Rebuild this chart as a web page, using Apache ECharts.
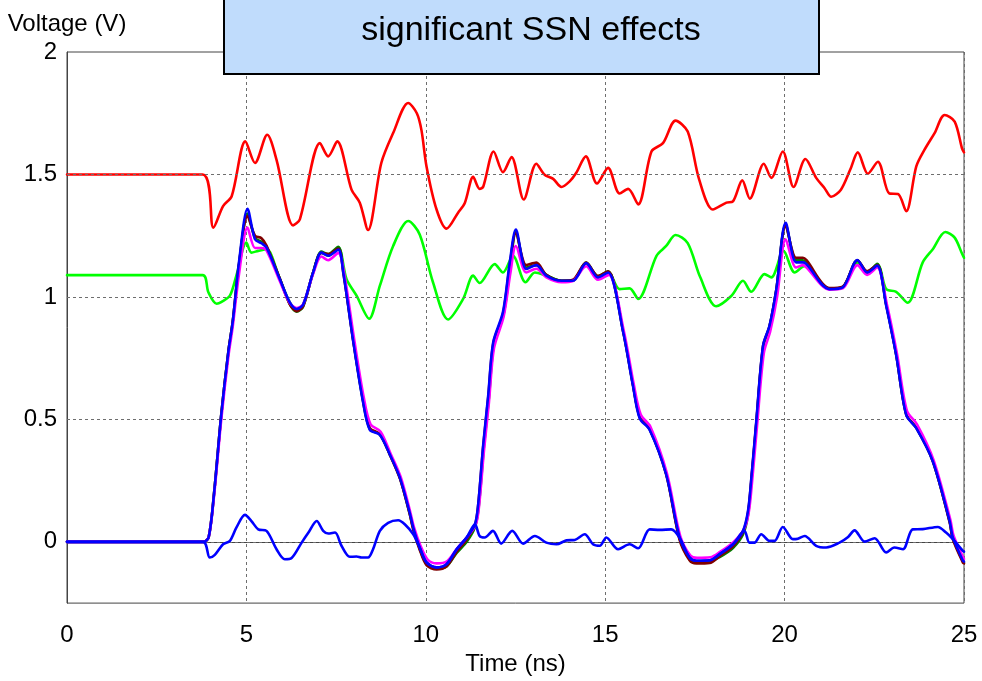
<!DOCTYPE html>
<html>
<head>
<meta charset="utf-8">
<script src="https://cdn.jsdelivr.net/npm/echarts@6/dist/echarts.min.js"></script>
<style>
html,body{margin:0;padding:0;background:#fff;}
#chart{width:982px;height:681px;}
</style>
</head>
<body>
<div id="chart"></div>
<script>
// ---- data (time in ns, voltage in V) ----
var titleText = 'significant SSN effects';
var xName = 'Time (ns)';
var yName = 'Voltage (V)';
var xTicks = [0, 5, 10, 15, 20, 25];
var yTicks = [0, 0.5, 1, 1.5, 2];

var redLine = [[0,1.5],[3.78,1.5],[4.08,1.283],[4.35,1.371],[4.59,1.411],[4.97,1.635],[5.24,1.547],[5.58,1.662],[5.84,1.56],[6.30,1.292],[6.49,1.317],[7.05,1.628],[7.28,1.574],[7.53,1.635],[7.93,1.438],[8.16,1.385],[8.39,1.273],[8.76,1.547],[9.09,1.669],[9.51,1.792],[9.75,1.75],[9.88,1.68],[10.02,1.533],[10.30,1.357],[10.58,1.279],[10.90,1.344],[11.09,1.385],[11.32,1.49],[11.50,1.441],[11.60,1.45],[11.89,1.594],[12.15,1.509],[12.39,1.571],[12.73,1.398],[13.08,1.544],[13.31,1.499],[13.55,1.482],[13.78,1.449],[14.01,1.472],[14.19,1.506],[14.46,1.574],[14.77,1.463],[15.08,1.527],[15.40,1.422],[15.64,1.441],[15.92,1.378],[16.29,1.594],[16.61,1.628],[16.96,1.72],[17.30,1.675],[17.62,1.479],[18.00,1.357],[18.38,1.385],[18.56,1.39],[18.82,1.476],[19.03,1.401],[19.42,1.544],[19.63,1.486],[19.95,1.594],[20.25,1.449],[20.58,1.563],[20.88,1.486],[21.11,1.445],[21.30,1.409],[21.57,1.438],[21.83,1.52],[22.04,1.59],[22.32,1.503],[22.60,1.552],[22.92,1.422],[23.16,1.42],[23.39,1.35],[23.67,1.533],[23.90,1.601],[24.18,1.669],[24.46,1.743],[24.74,1.716],[24.95,1.604],[25,1.59]];

var greenLine = [[0,1.089],[3.78,1.089],[3.94,1.019],[4.17,0.972],[4.31,0.98],[4.54,1.005],[4.72,1.087],[5.0,1.222],[5.14,1.181],[5.33,1.188],[5.56,1.195],[5.93,1.073],[6.21,0.978],[6.40,0.951],[6.58,0.968],[6.86,1.10],[7.09,1.181],[7.28,1.168],[7.56,1.202],[7.79,1.073],[8.07,1.005],[8.42,0.911],[8.72,1.046],[9.09,1.208],[9.51,1.31],[9.83,1.255],[10.20,1.06],[10.62,0.908],[11.04,0.992],[11.32,1.087],[11.50,1.057],[11.92,1.134],[12.15,1.10],[12.43,1.168],[12.78,1.06],[13.04,1.10],[13.36,1.087],[13.78,1.066],[14.10,1.066],[14.47,1.138],[14.80,1.080],[15.08,1.103],[15.40,1.032],[15.68,1.035],[15.92,0.992],[16.43,1.168],[16.70,1.208],[16.96,1.253],[17.30,1.22],[17.65,1.08],[18.09,0.962],[18.52,1.005],[18.84,1.066],[19.07,1.021],[19.44,1.093],[19.63,1.080],[19.97,1.188],[20.28,1.10],[20.56,1.127],[20.88,1.08],[21.25,1.032],[21.62,1.039],[22.01,1.14],[22.27,1.10],[22.60,1.127],[22.83,1.032],[23.11,1.021],[23.43,0.976],[23.85,1.141],[24.13,1.195],[24.48,1.265],[24.74,1.242],[24.95,1.175],[25,1.16]];

var blueSignal = [[0,0],[3.80,0],[3.95,0.02],[4.10,0.2],[4.30,0.52],[4.50,0.78],[4.62,0.90],[4.80,1.15],[5.03,1.36],[5.24,1.235],[5.42,1.219],[5.56,1.202],[5.93,1.073],[6.21,0.978],[6.40,0.951],[6.58,0.968],[6.86,1.10],[7.09,1.181],[7.28,1.168],[7.56,1.193],[7.70,1.10],[7.98,0.816],[8.25,0.572],[8.44,0.457],[8.72,0.437],[9.00,0.356],[9.28,0.261],[9.55,0.12],[9.65,0.058],[9.83,-0.023],[10.02,-0.084],[10.30,-0.104],[10.58,-0.091],[10.86,-0.03],[11.14,0.018],[11.37,0.072],[11.46,0.153],[11.60,0.396],[11.74,0.599],[11.88,0.816],[12.15,0.938],[12.34,1.141],[12.51,1.275],[12.80,1.114],[13.08,1.13],[13.36,1.087],[13.78,1.066],[14.10,1.066],[14.47,1.138],[14.80,1.080],[15.08,1.10],[15.50,0.857],[15.77,0.64],[15.96,0.505],[16.24,0.457],[16.70,0.275],[17.07,0.02],[17.35,-0.064],[17.54,-0.077],[17.91,-0.075],[18.19,-0.05],[18.56,-0.01],[18.84,0.045],[18.98,0.126],[19.07,0.255],[19.21,0.491],[19.40,0.802],[19.58,0.883],[19.77,1.032],[20.03,1.303],[20.32,1.141],[20.51,1.141],[20.61,1.134],[21.25,1.032],[21.62,1.039],[22.03,1.151],[22.30,1.10],[22.58,1.128],[22.83,0.965],[23.11,0.762],[23.39,0.518],[23.67,0.464],[24.13,0.329],[24.60,0.085],[24.69,0.018],[24.97,-0.077],[25,-0.08]];

var magentaSignal = [[0,0],[3.80,0],[3.95,0.02],[4.10,0.19],[4.30,0.50],[4.50,0.76],[4.62,0.88],[4.80,1.10],[5.03,1.283],[5.24,1.20],[5.42,1.20],[5.56,1.19],[5.93,1.065],[6.21,0.975],[6.40,0.955],[6.58,0.97],[6.86,1.095],[7.09,1.165],[7.28,1.15],[7.56,1.18],[7.72,1.10],[8.00,0.83],[8.27,0.59],[8.46,0.48],[8.74,0.45],[9.02,0.36],[9.30,0.265],[9.57,0.12],[9.67,0.06],[9.85,-0.015],[10.05,-0.072],[10.30,-0.088],[10.60,-0.078],[10.88,-0.025],[11.16,0.022],[11.39,0.07],[11.48,0.14],[11.62,0.37],[11.76,0.57],[11.90,0.79],[12.17,0.92],[12.36,1.10],[12.51,1.208],[12.80,1.10],[13.08,1.115],[13.36,1.08],[13.78,1.06],[14.10,1.065],[14.47,1.125],[14.80,1.07],[15.10,1.09],[15.52,0.86],[15.80,0.64],[15.99,0.52],[16.26,0.47],[16.72,0.28],[17.09,0.025],[17.37,-0.055],[17.56,-0.065],[17.93,-0.063],[18.21,-0.04],[18.58,0.0],[18.86,0.05],[19.00,0.12],[19.09,0.24],[19.23,0.47],[19.42,0.77],[19.60,0.86],[19.79,1.0],[20.03,1.235],[20.32,1.12],[20.51,1.13],[20.61,1.12],[21.25,1.03],[21.62,1.035],[22.03,1.13],[22.30,1.09],[22.58,1.12],[22.85,0.97],[23.13,0.77],[23.41,0.535],[23.69,0.48],[24.15,0.335],[24.62,0.09],[24.71,0.025],[24.98,-0.065],[25,-0.07]];

var darkRedSignal = [[0,0],[3.80,0],[3.95,0.02],[4.10,0.2],[4.30,0.52],[4.50,0.78],[4.62,0.90],[4.80,1.14],[5.03,1.33],[5.24,1.25],[5.42,1.24],[5.56,1.21],[5.93,1.075],[6.21,0.97],[6.40,0.942],[6.58,0.962],[6.86,1.10],[7.09,1.18],[7.28,1.175],[7.56,1.198],[7.70,1.10],[7.98,0.82],[8.25,0.58],[8.44,0.465],[8.72,0.44],[9.00,0.355],[9.28,0.258],[9.55,0.115],[9.65,0.05],[9.83,-0.032],[10.02,-0.095],[10.30,-0.113],[10.58,-0.10],[10.86,-0.04],[11.14,0.01],[11.37,0.068],[11.46,0.15],[11.60,0.39],[11.74,0.59],[11.88,0.81],[12.15,0.93],[12.34,1.13],[12.51,1.26],[12.80,1.13],[13.08,1.14],[13.36,1.09],[13.78,1.066],[14.10,1.07],[14.47,1.14],[14.80,1.085],[15.08,1.105],[15.50,0.86],[15.77,0.645],[15.96,0.51],[16.24,0.46],[16.70,0.275],[17.07,0.01],[17.35,-0.075],[17.54,-0.088],[17.91,-0.086],[18.19,-0.058],[18.56,-0.018],[18.84,0.04],[18.98,0.12],[19.07,0.25],[19.21,0.485],[19.40,0.80],[19.58,0.88],[19.77,1.03],[20.03,1.29],[20.32,1.16],[20.51,1.16],[20.61,1.15],[21.25,1.036],[21.62,1.042],[22.03,1.15],[22.30,1.105],[22.58,1.13],[22.83,0.97],[23.11,0.765],[23.39,0.52],[23.67,0.466],[24.13,0.33],[24.60,0.08],[24.69,0.01],[24.97,-0.085],[25,-0.088]];

var darkGreenSignal = [[0,0],[3.80,0],[3.95,0.02],[4.10,0.2],[4.30,0.52],[4.50,0.78],[4.62,0.90],[4.80,1.14],[5.03,1.34],[5.24,1.24],[5.42,1.225],[5.56,1.205],[5.93,1.075],[6.21,0.97],[6.40,0.94],[6.58,0.96],[6.86,1.10],[7.09,1.185],[7.28,1.175],[7.56,1.205],[7.70,1.11],[7.98,0.82],[8.25,0.575],[8.44,0.46],[8.72,0.438],[9.00,0.356],[9.28,0.26],[9.55,0.115],[9.65,0.055],[9.83,-0.028],[10.02,-0.09],[10.30,-0.108],[10.58,-0.10],[10.86,-0.045],[11.14,0.0],[11.37,0.06],[11.48,0.15],[11.62,0.39],[11.76,0.59],[11.90,0.81],[12.17,0.93],[12.36,1.13],[12.51,1.265],[12.80,1.12],[13.08,1.13],[13.36,1.09],[13.78,1.066],[14.10,1.068],[14.47,1.14],[14.80,1.085],[15.08,1.105],[15.50,0.86],[15.77,0.645],[15.96,0.51],[16.24,0.46],[16.70,0.278],[17.07,0.015],[17.35,-0.07],[17.54,-0.082],[17.91,-0.08],[18.19,-0.062],[18.56,-0.025],[18.84,0.03],[18.98,0.11],[19.07,0.24],[19.21,0.48],[19.40,0.795],[19.58,0.88],[19.77,1.03],[20.03,1.295],[20.32,1.15],[20.51,1.15],[20.61,1.14],[21.25,1.034],[21.62,1.04],[22.03,1.15],[22.30,1.10],[22.58,1.135],[22.83,0.97],[23.11,0.765],[23.39,0.52],[23.67,0.466],[24.13,0.33],[24.60,0.082],[24.69,0.015],[24.97,-0.08],[25,-0.085]];

var quietLine = [[0,0],[3.79,0],[3.98,-0.064],[4.12,-0.053],[4.35,-0.01],[4.54,0.004],[4.72,0.058],[4.96,0.11],[5.14,0.085],[5.33,0.051],[5.56,0.045],[5.84,-0.03],[6.07,-0.071],[6.26,-0.066],[6.54,-0.003],[6.73,0.038],[6.96,0.085],[7.14,0.045],[7.28,0.034],[7.47,0.038],[7.65,-0.016],[7.88,-0.061],[8.07,-0.06],[8.21,-0.064],[8.39,-0.064],[8.53,-0.03],[8.72,0.045],[8.95,0.078],[9.23,0.088],[9.42,0.071],[9.65,0.031],[9.83,-0.023],[10.02,-0.084],[10.30,-0.104],[10.58,-0.091],[10.86,-0.03],[11.14,0.018],[11.37,0.072],[11.50,0.024],[11.64,0.018],[11.87,0.045],[12.10,-0.007],[12.41,0.045],[12.71,-0.007],[13.04,0.024],[13.36,-0.003],[13.64,-0.01],[13.92,0.006],[14.15,0.008],[14.43,0.031],[14.66,-0.01],[14.85,-0.016],[15.03,0.018],[15.36,-0.03],[15.68,-0.01],[15.92,-0.026],[16.24,0.051],[16.52,0.049],[16.84,0.051],[17.07,0.018],[17.35,-0.064],[17.54,-0.077],[17.91,-0.075],[18.19,-0.05],[18.56,-0.01],[18.88,0.045],[19.02,-0.003],[19.16,-0.003],[19.35,0.031],[19.58,0.004],[19.72,0.004],[19.95,0.061],[20.23,0.011],[20.37,0.013],[20.56,0.024],[20.88,-0.016],[21.16,-0.023],[21.53,-0.003],[21.77,0.02],[21.95,0.047],[22.23,0.001],[22.51,0.015],[22.83,-0.043],[23.06,-0.023],[23.30,-0.03],[23.57,0.051],[23.85,0.052],[24.27,0.061],[24.50,0.038],[24.69,0.011],[24.97,-0.037],[25,-0.04]];

// ---- chart ----
var FONT = '"Liberation Sans", Arial, sans-serif';
var chart = echarts.init(document.getElementById('chart'), null, {renderer: 'canvas'});

function lineSeries(name, data, color, z, extra) {
  var s = {
    name: name, type: 'line', data: data, showSymbol: false, symbol: 'none',
    smooth: 0.3, z: z, silent: true,
    lineStyle: {color: color, width: 2.6, join: 'round', cap: 'round'}
  };
  if (extra) for (var k in extra) s[k] = extra[k];
  return s;
}

var hGrid = yTicks.filter(function (v) { return v < 2; }).map(function (v) { return {yAxis: v}; });

var option = {
  animation: false,
  backgroundColor: '#ffffff',
  grid: {left: 67, right: 18, top: 52, bottom: 75, show: true, borderColor: '#444', borderWidth: 1, backgroundColor: 'transparent'},
  xAxis: {
    type: 'value', min: xTicks[0], max: xTicks[xTicks.length - 1], interval: 5,
    name: xName, nameLocation: 'middle', nameGap: 47,
    nameTextStyle: {color: '#000', fontSize: 24, fontFamily: FONT},
    axisLine: {show: true, lineStyle: {color: '#444', width: 1}},
    axisTick: {show: false},
    axisLabel: {color: '#000', fontSize: 24, fontFamily: FONT, margin: 20},
    splitLine: {show: true, lineStyle: {color: '#6e6e6e', width: 1, type: [3, 3]}}
  },
  yAxis: {
    type: 'value', min: -0.25, max: 2, interval: 0.25,
    name: yName, nameLocation: 'end', nameGap: 16,
    nameTextStyle: {color: '#000', fontSize: 24, fontFamily: FONT, align: 'center'},
    axisLine: {show: true, lineStyle: {color: '#444', width: 1}},
    axisTick: {show: false},
    axisLabel: {
      color: '#000', fontSize: 24, fontFamily: FONT, margin: 10,
      formatter: function (v) {
        for (var i = 0; i < yTicks.length; i++) if (Math.abs(yTicks[i] - v) < 1e-9) return String(yTicks[i]);
        return '';
      }
    },
    splitLine: {show: false}
  },
  series: [
    lineSeries('red', redLine, '#ff0000', 2, {
      markLine: {silent: true, symbol: 'none', label: {show: false}, animation: false,
        lineStyle: {color: '#6e6e6e', width: 1, type: [3, 3]}, data: hGrid}
    }),
    lineSeries('green', greenLine, '#00ff00', 3),
    lineSeries('darkgreen', darkGreenSignal, '#008000', 4),
    lineSeries('darkred', darkRedSignal, '#800000', 5),
    lineSeries('magenta', magentaSignal, '#ff00ff', 6),
    lineSeries('blue', blueSignal, '#0000ff', 7),
    lineSeries('quiet', quietLine, '#0000ff', 8)
  ],
  graphic: [
    {type: 'rect', z: 100, shape: {x: 224, y: -3, width: 595, height: 77},
      style: {fill: '#c0dcfc', stroke: '#000', lineWidth: 2}},
    {type: 'text', z: 101, x: 531, y: 31,
      style: {text: titleText, fill: '#000', font: '34px ' + FONT, textAlign: 'center', textVerticalAlign: 'middle'}}
  ]
};
chart.setOption(option);
</script>
</body>
</html>
